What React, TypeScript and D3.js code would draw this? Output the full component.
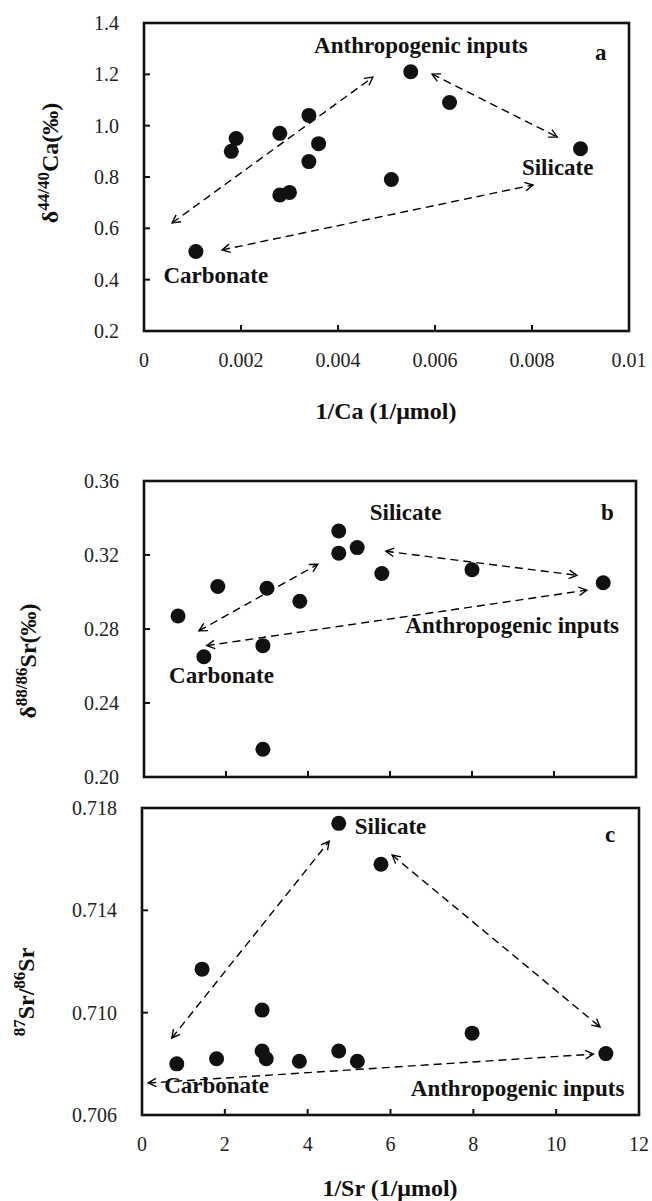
import React from "react";
import * as d3 from "d3";

// ---------- data ----------
// Panel a: 1/Ca vs δ44/40Ca
const invCa = [0.00107, 0.0018, 0.0019, 0.0028, 0.0028, 0.003, 0.0034, 0.0034, 0.0036, 0.0055, 0.0063, 0.0051, 0.009];
const d44Ca = [0.51, 0.9, 0.95, 0.97, 0.73, 0.74, 1.04, 0.86, 0.93, 1.21, 1.09, 0.79, 0.91];

// Panel b: 1/Sr vs δ88/86Sr
const invSrB = [0.83, 1.8, 1.46, 3.0, 2.9, 3.8, 2.9, 4.75, 4.75, 5.2, 5.8, 8.0, 11.2];
const d88Sr = [0.287, 0.303, 0.265, 0.302, 0.271, 0.295, 0.215, 0.333, 0.321, 0.324, 0.31, 0.312, 0.305];

// Panel c: 1/Sr vs 87Sr/86Sr
const invSrC = [0.84, 1.45, 1.8, 2.9, 2.9, 3.0, 3.8, 4.75, 5.77, 4.75, 5.2, 7.97, 11.2];
const sr8786 = [0.708, 0.7117, 0.7082, 0.7101, 0.7085, 0.7082, 0.7081, 0.7174, 0.7158, 0.7085, 0.7081, 0.7092, 0.7084];

// Tick values
const ticksXa = [0, 0.002, 0.004, 0.006, 0.008, 0.01];
const ticksYa = [0.2, 0.4, 0.6, 0.8, 1.0, 1.2, 1.4];
const ticksXsr = [0, 2, 4, 6, 8, 10, 12];
const ticksYb = [0.2, 0.24, 0.28, 0.32, 0.36];
const ticksYc = [0.706, 0.71, 0.714, 0.718];

// Mixing arrows (data units): [x1, y1, x2, y2]
const arrowsA = [
  [0.00058, 0.621, 0.00472, 1.189],
  [0.00594, 1.201, 0.00852, 0.956],
  [0.00161, 0.516, 0.00802, 0.769],
];
const arrowsB = [
  [1.34, 0.279, 4.24, 0.315],
  [1.53, 0.271, 10.8, 0.301],
  [5.9, 0.322, 10.56, 0.309],
];
const arrowsC = [
  [0.72, 0.70901, 4.52, 0.7167],
  [6.04, 0.71616, 11.06, 0.70944],
  [0.15, 0.70725, 10.9, 0.70838],
];

// Annotation labels (data units): [text, x, y]
const labelsA: [string, number, number][] = [
  ["Anthropogenic inputs", 0.00571, 1.283],
  ["Carbonate", 0.00148, 0.387],
  ["Silicate", 0.00853, 0.808],
  ["a", 0.00942, 1.256],
];
const labelsB: [string, number, number][] = [
  ["Silicate", 6.38, 0.339],
  ["b", 11.3, 0.339],
  ["Anthropogenic inputs", 8.98, 0.278],
  ["Carbonate", 1.89, 0.251],
];
const labelsC: [string, number, number][] = [
  ["Silicate", 6.0, 0.71698],
  ["c", 11.3, 0.71667],
  ["Anthropogenic inputs", 9.07, 0.70674],
  ["Carbonate", 1.8, 0.70686],
];

const FONT = "'Liberation Serif','Times New Roman',serif";

function Arrow({ x1, y1, x2, y2 }: { x1: number; y1: number; x2: number; y2: number }) {
  const ang = Math.atan2(y2 - y1, x2 - x1);
  const L = 9;
  const h = (28 * Math.PI) / 180;
  const head = (x: number, y: number, a: number) =>
    `M${x + L * Math.cos(a + h)},${y + L * Math.sin(a + h)}L${x},${y}L${x + L * Math.cos(a - h)},${y + L * Math.sin(a - h)}`;
  return (
    <g stroke="#000" fill="none" strokeWidth={1.4}>
      <line x1={x1} y1={y1} x2={x2} y2={y2} strokeDasharray="8,5" />
      <path d={head(x1, y1, ang)} />
      <path d={head(x2, y2, ang + Math.PI)} />
    </g>
  );
}

type PanelProps = {
  left: number; right: number; top: number; bottom: number;
  xDomain: [number, number]; yDomain: [number, number];
  xTicks: number[]; yTicks: number[];
  xFmt: (v: number) => string; yFmt: (v: number) => string;
  showXLabels: boolean;
  xs: number[]; ys: number[];
  arrows: number[][];
  labels: [string, number, number][];
};

function Panel(p: PanelProps) {
  const x = d3.scaleLinear().domain(p.xDomain).range([p.left, p.right]);
  const y = d3.scaleLinear().domain(p.yDomain).range([p.bottom, p.top]);
  const T = 6;
  return (
    <g>
      {p.arrows.map((a, i) => (
        <Arrow key={"ar" + i} x1={x(a[0])} y1={y(a[1])} x2={x(a[2])} y2={y(a[3])} />
      ))}
      {p.xs.map((v, i) => (
        <circle key={"pt" + i} cx={x(v)} cy={y(p.ys[i])} r={7.5} fill="#111" />
      ))}
      {p.labels.map(([t, lx, ly], i) => (
        <text key={"lb" + i} x={x(lx)} y={y(ly)} textAnchor="middle" fontFamily={FONT}
          fontWeight="bold" fontSize={23} fill="#111">{t}</text>
      ))}
      <rect x={p.left} y={p.top} width={p.right - p.left} height={p.bottom - p.top}
        fill="none" stroke="#111" strokeWidth={2.6} />
      {p.xTicks.slice(1, -1).map((v, i) => (
        <line key={"xt" + i} x1={x(v)} x2={x(v)} y1={p.bottom} y2={p.bottom - T} stroke="#111" strokeWidth={2} />
      ))}
      {p.yTicks.slice(1, -1).map((v, i) => (
        <line key={"yt" + i} x1={p.left} x2={p.left + T} y1={y(v)} y2={y(v)} stroke="#111" strokeWidth={2} />
      ))}
      {p.yTicks.map((v, i) => (
        <text key={"yl" + i} x={p.left - 25} y={y(v)} dy="0.35em" textAnchor="end"
          fontFamily={FONT} fontSize={20} fill="#222">{p.yFmt(v)}</text>
      ))}
      {p.showXLabels && p.xTicks.map((v, i) => (
        <text key={"xl" + i} x={x(v)} y={p.bottom + 36} textAnchor="middle"
          fontFamily={FONT} fontSize={20} fill="#222">{p.xFmt(v)}</text>
      ))}
    </g>
  );
}

export default function App() {
  const fmtXa = (v: number) => (v === 0 ? "0" : String(+v.toFixed(3)));
  return (
    <svg width={652} height={1201} style={{ position: "absolute", left: 0, top: 0, background: "#fff" }}>
      <Panel left={144} right={629} top={23} bottom={331}
        xDomain={[0, 0.01]} yDomain={[0.2, 1.4]}
        xTicks={ticksXa} yTicks={ticksYa}
        xFmt={fmtXa} yFmt={d3.format(".1f")} showXLabels={true}
        xs={invCa} ys={d44Ca} arrows={arrowsA} labels={labelsA} />
      <Panel left={144} right={636} top={481} bottom={777}
        xDomain={[0, 12]} yDomain={[0.2, 0.36]}
        xTicks={ticksXsr} yTicks={ticksYb}
        xFmt={d3.format("d")} yFmt={d3.format(".2f")} showXLabels={false}
        xs={invSrB} ys={d88Sr} arrows={arrowsB} labels={labelsB} />
      <Panel left={142} right={639} top={808} bottom={1115}
        xDomain={[0, 12]} yDomain={[0.706, 0.718]}
        xTicks={ticksXsr} yTicks={ticksYc}
        xFmt={d3.format("d")} yFmt={d3.format(".3f")} showXLabels={true}
        xs={invSrC} ys={sr8786} arrows={arrowsC} labels={labelsC} />

      {/* x-axis titles */}
      <text x={386} y={419} textAnchor="middle" fontFamily={FONT} fontWeight="bold" fontSize={24} fill="#111">1/Ca (1/μmol)</text>
      <text x={390} y={1196} textAnchor="middle" fontFamily={FONT} fontWeight="bold" fontSize={24} fill="#111">1/Sr (1/μmol)</text>

      {/* y-axis titles */}
      <text transform="translate(58,163) rotate(-90)" textAnchor="middle" fontFamily={FONT} fontWeight="bold" fontSize={24} fill="#111">
        δ<tspan fontSize={17} dy={-9}>44/40</tspan><tspan dy={9}>Ca(‰)</tspan>
      </text>
      <text transform="translate(36,661) rotate(-90)" textAnchor="middle" fontFamily={FONT} fontWeight="bold" fontSize={24} fill="#111">
        δ<tspan fontSize={17} dy={-9}>88/86</tspan><tspan dy={9}>Sr(‰)</tspan>
      </text>
      <text transform="translate(34,992) rotate(-90)" textAnchor="middle" fontFamily={FONT} fontWeight="bold" fontSize={24} fill="#111">
        <tspan fontSize={17} dy={-9}>87</tspan><tspan dy={9}>Sr/</tspan><tspan fontSize={17} dy={-9}>86</tspan><tspan dy={9}>Sr</tspan>
      </text>
    </svg>
  );
}
